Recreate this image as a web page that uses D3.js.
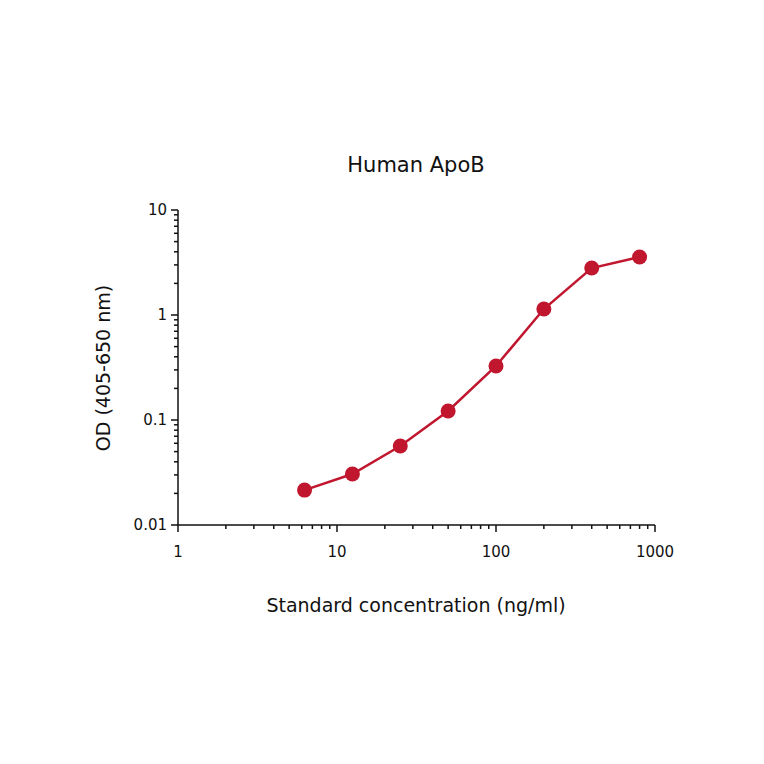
<!DOCTYPE html>
<html>
<head>
<meta charset="utf-8">
<script src="https://cdn.jsdelivr.net/npm/d3@7"></script>
<style>
  body { margin: 0; background: #fff; }
  text { font-family: "DejaVu Sans", sans-serif; }
</style>
</head>
<body>
<svg id="chart" width="764" height="764"></svg>
<script>
// standard curve data
var concentrations = [6.25, 12.5, 25, 50, 100, 200, 400, 800];
var odValues       = [0.0215, 0.0306, 0.0565, 0.122, 0.327, 1.14, 2.8, 3.57];
var xTickValues    = [1, 10, 100, 1000];
var yTickValues    = [0.01, 0.1, 1, 10];

var svg   = d3.select('#chart');
var color = '#c0172f';

var x = d3.scaleLog().domain([1, 1000]).range([178, 655]);
var y = d3.scaleLog().domain([0.01, 10]).range([525, 210]);

// minor ticks for each decade
function minors(lo, hi) {
  var out = [];
  for (var d = lo; d < hi; d *= 10) {
    for (var k = 1; k <= 10; k++) out.push(+(d * k).toPrecision(3));
  }
  return Array.from(new Set(out));
}

var g = svg.append('g').attr('stroke', '#111').attr('stroke-width', 1.5);

g.append('line').attr('x1', x(1)).attr('x2', x(1)).attr('y1', y(0.01)).attr('y2', y(10));
g.append('line').attr('x1', x(1)).attr('x2', x(1000)).attr('y1', y(0.01)).attr('y2', y(0.01));

minors(1, 1000).forEach(function(v) {
  var major = xTickValues.indexOf(v) >= 0;
  g.append('line').attr('x1', x(v)).attr('x2', x(v))
   .attr('y1', y(0.01)).attr('y2', y(0.01) + (major ? 7 : 4));
});
minors(0.01, 10).forEach(function(v) {
  var major = yTickValues.indexOf(v) >= 0;
  g.append('line').attr('y1', y(v)).attr('y2', y(v))
   .attr('x1', x(1)).attr('x2', x(1) - (major ? 7 : 4));
});

svg.selectAll('.xl').data(xTickValues).enter().append('text')
   .attr('x', function(d) { return x(d); }).attr('y', 557)
   .attr('text-anchor', 'middle').style('font-size', '15px').attr('fill', '#111')
   .text(function(d) { return d; });

svg.selectAll('.yl').data(yTickValues).enter().append('text')
   .attr('x', 167).attr('y', function(d) { return y(d) + 5; })
   .attr('text-anchor', 'end').style('font-size', '15px').attr('fill', '#111')
   .text(function(d) { return d; });

var line = d3.line()
  .x(function(d, i) { return x(concentrations[i]); })
  .y(function(d) { return y(d); });

svg.append('path').datum(odValues)
   .attr('d', line).attr('fill', 'none')
   .attr('stroke', color).attr('stroke-width', 2.5);

svg.selectAll('.pt').data(odValues).enter().append('circle')
   .attr('cx', function(d, i) { return x(concentrations[i]); })
   .attr('cy', function(d) { return y(d); })
   .attr('r', 7.5).attr('fill', color);

svg.append('text').attr('x', 416).attr('y', 172).attr('text-anchor', 'middle')
   .style('font-size', '21px').attr('fill', '#111').text('Human ApoB');

svg.append('text').attr('x', 416).attr('y', 612).attr('text-anchor', 'middle')
   .style('font-size', '19px').attr('fill', '#111').text('Standard concentration (ng/ml)');

svg.append('text').attr('transform', 'translate(110,368) rotate(-90)')
   .attr('text-anchor', 'middle').style('font-size', '19px').attr('fill', '#111')
   .text('OD (405-650 nm)');
</script>
</body>
</html>
